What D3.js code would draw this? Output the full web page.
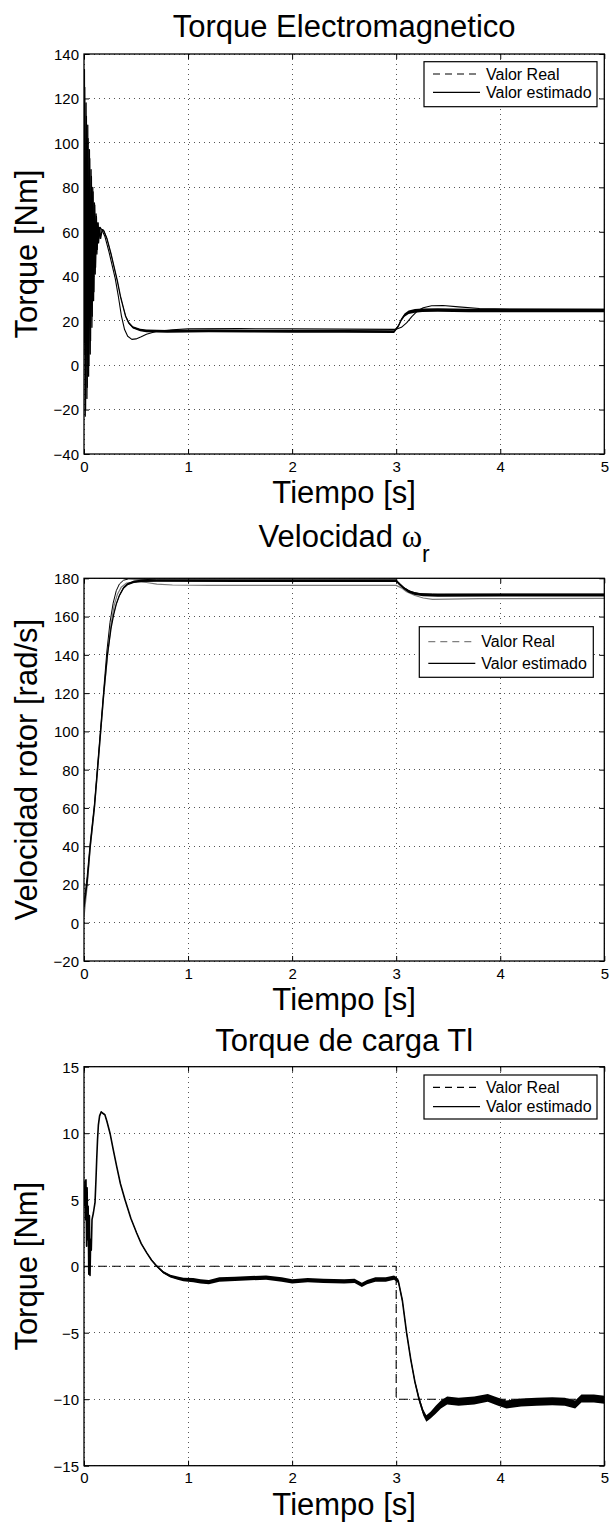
<!DOCTYPE html>
<html>
<head>
<meta charset="utf-8">
<script src="https://cdn.jsdelivr.net/npm/d3@7"></script>
<style>
    body { margin: 0; background: #fff; }
    svg { display: block; font-family: "Liberation Sans", Arial, Helvetica, sans-serif; }
</style>
</head>
<body>
<div id="chart"></div>
<script>

// ---- data: [t (s), value, ripple half-width] ----

const timeTicks = [0, 1, 2, 3, 4, 5];
const teTicks = [-40, -20, 0, 20, 40, 60, 80, 100, 120, 140];
const wrTicks = [-20, 0, 20, 40, 60, 80, 100, 120, 140, 160, 180];
const tlTicks = [-15, -10, -5, 0, 5, 10, 15];
const legendLabels = ["Valor Real", "Valor estimado"];

// torque electromagnetico
const teReal = [
    [0.000, 10, 0], [0.004, 133, 0], [0.012, -23, 0], [0.020, 118, 0], [0.028, -15, 0], [0.036, 108, 0],
    [0.044, -5, 0], [0.052, 97, 0], [0.060, 5, 0], [0.068, 88, 0], [0.076, 17, 0], [0.084, 80, 0],
    [0.092, 29, 0], [0.100, 73, 0], [0.108, 41, 0], [0.116, 68, 0], [0.124, 50, 0], [0.132, 64, 0],
    [0.140, 55, 0], [0.150, 62, 0], [0.160, 57, 0], [0.175, 61, 0.3], [0.19, 60.5, 0.4], [0.22, 57, 0.4],
    [0.26, 50, 0.4], [0.29, 44, 0.4], [0.32, 38, 0.4], [0.35, 31, 0.4], [0.38, 25.5, 0.4], [0.40, 22, 0.4],
    [0.43, 19, 0.5], [0.47, 17, 0.5], [0.54, 15.8, 0.6], [0.60, 15.4, 0.6], [0.80, 15.2, 0.6], [1.20, 15.4, 0.6],
    [1.60, 15.3, 0.6], [2.00, 15.2, 0.6], [2.50, 15.2, 0.6], [2.98, 15.1, 0.6], [3.02, 17.5, 0.6], [3.05, 20.5, 0.6],
    [3.08, 22.5, 0.7], [3.12, 23.8, 0.8], [3.18, 24.4, 0.8], [3.25, 24.7, 0.8], [3.40, 24.8, 0.8], [3.70, 24.6, 0.8],
    [4.20, 24.6, 0.8], [5.00, 24.6, 0.8]
];
const teEst = [
    [0.000, 5], [0.008, 125], [0.016, -20], [0.024, 112], [0.032, -10], [0.040, 102], [0.048, 0], [0.056, 93],
    [0.064, 11], [0.072, 85], [0.080, 22], [0.088, 78], [0.096, 33], [0.104, 72], [0.112, 44], [0.120, 67],
    [0.128, 52], [0.136, 64], [0.145, 57], [0.155, 62], [0.17, 61], [0.20, 58], [0.24, 51], [0.27, 45],
    [0.30, 39], [0.33, 31], [0.36, 22], [0.39, 16], [0.42, 13], [0.46, 11.6], [0.50, 11.8], [0.55, 12.8],
    [0.60, 13.9], [0.70, 15.2], [0.85, 15.9], [1.00, 16.3], [1.50, 16.4], [2.00, 16.3], [2.50, 16.2], [3.00, 16.1],
    [3.05, 17], [3.10, 19], [3.15, 21.8], [3.20, 24.2], [3.26, 25.8], [3.34, 26.7], [3.45, 26.8], [3.60, 26.2],
    [3.80, 25.5], [4.10, 25.2], [5.00, 25.1]
];

// velocidad del rotor
const wrReal = [
    [0, 3], [0.03, 19], [0.06, 39], [0.10, 60], [0.13, 79], [0.16, 99], [0.19, 119], [0.225, 139], [0.26, 156],
    [0.29, 166], [0.32, 171.5], [0.36, 175.5], [0.41, 177.5], [0.50, 178.2], [0.60, 177.8], [0.70, 177],
    [0.85, 176.5], [1.20, 176.3], [2.00, 176.3], [3.00, 176.3], [3.05, 175], [3.10, 173], [3.18, 171],
    [3.26, 169.7], [3.35, 169], [3.50, 169.1], [3.80, 169.4], [5.00, 169.5]
];
const wrEst = [
    [0, 8, 0], [0.03, 21, 0], [0.06, 40, 0], [0.10, 60, 0], [0.13, 80, 0], [0.16, 100, 0], [0.19, 120, 0],
    [0.225, 140, 0], [0.26, 154, 0.2], [0.285, 161, 0.3], [0.31, 166.5, 0.4], [0.34, 171, 0.5], [0.38, 175, 0.6],
    [0.42, 177, 0.6], [0.48, 178.2, 0.6], [0.55, 178.7, 0.6], [0.70, 178.8, 0.6], [1.50, 178.7, 0.6],
    [2.50, 178.7, 0.6], [3.00, 178.7, 0.6], [3.03, 177, 0.6], [3.07, 175, 0.6], [3.12, 173.2, 0.7],
    [3.18, 172, 0.7], [3.26, 171.3, 0.7], [3.40, 171.1, 0.7], [4.00, 171.2, 0.7], [5.00, 171.2, 0.7]
];
const wrObs = [
    [0, 10], [0.03, 24], [0.06, 42], [0.10, 62], [0.13, 82], [0.16, 102], [0.19, 122], [0.22, 142], [0.25, 157],
    [0.28, 167], [0.31, 173.5], [0.34, 177], [0.38, 179], [0.43, 179.7], [0.50, 179.6], [0.70, 179.2],
    [3.00, 179.2], [3.03, 177.5], [3.08, 175], [3.14, 173], [3.22, 172], [3.35, 171.8], [5.00, 171.8]
];

// torque de carga
const tlReal = [[0, 0], [3, 0], [3, -10], [5, -10]];
const tlEst = [
    [0.000, 4.5, 0], [0.010, 6.4, 0], [0.015, 3.5, 0], [0.019, 6.5, 0], [0.025, 1.5, 0], [0.030, 5.9, 0],
    [0.036, 2.0, 0], [0.040, 4.5, 0], [0.046, -0.6, 0], [0.052, 3.8, 0], [0.058, -0.7, 0], [0.064, 2.0, 0],
    [0.070, 1.2, 0], [0.077, 3.5, 0], [0.090, 4.0, 0], [0.106, 4.8, 0], [0.115, 6.5, 0], [0.122, 8.0, 0],
    [0.130, 9.5, 0], [0.138, 10.6, 0.05], [0.150, 11.3, 0.05], [0.165, 11.6, 0.05], [0.180, 11.5, 0.05],
    [0.200, 11.4, 0.05], [0.220, 10.9, 0.05], [0.250, 10.0, 0.05], [0.280, 8.8, 0.05], [0.314, 7.5, 0.05],
    [0.350, 6.2, 0.05], [0.394, 5.0, 0.05], [0.450, 3.6, 0.05], [0.506, 2.5, 0.05], [0.550, 1.7, 0.05],
    [0.603, 1.0, 0.05], [0.650, 0.45, 0.05], [0.700, 0.0, 0.06], [0.760, -0.45, 0.08], [0.830, -0.75, 0.1],
    [0.900, -0.9, 0.12], [0.955, -1.0, 0.14], [1.05, -1.05, 0.16], [1.12, -1.15, 0.16], [1.20, -1.2, 0.16],
    [1.30, -1.0, 0.16], [1.45, -0.95, 0.16], [1.60, -0.9, 0.16], [1.75, -0.85, 0.16], [1.90, -1.0, 0.16],
    [2.00, -1.15, 0.16], [2.15, -1.05, 0.16], [2.30, -1.1, 0.16], [2.50, -1.15, 0.16], [2.60, -1.1, 0.16],
    [2.67, -1.4, 0.16], [2.72, -1.2, 0.16], [2.80, -1.0, 0.16], [2.90, -1.0, 0.16], [2.98, -0.85, 0.16],
    [3.02, -1.1, 0.16], [3.06, -2.6, 0.16], [3.10, -5.0, 0.16], [3.14, -7.0, 0.16], [3.18, -8.7, 0.16],
    [3.22, -10.0, 0.2], [3.26, -11.0, 0.22], [3.29, -11.45, 0.24], [3.33, -11.2, 0.26], [3.38, -10.8, 0.3],
    [3.43, -10.4, 0.3], [3.49, -10.1, 0.3], [3.60, -10.2, 0.3], [3.75, -10.1, 0.3], [3.88, -9.9, 0.3],
    [3.98, -10.2, 0.3], [4.06, -10.4, 0.3], [4.20, -10.25, 0.3], [4.35, -10.2, 0.3], [4.50, -10.15, 0.3],
    [4.62, -10.2, 0.3], [4.72, -10.4, 0.3], [4.78, -9.95, 0.3], [4.90, -9.95, 0.3], [5.00, -10.05, 0.3]
];


/* * * * * * * * * * * * * *
*        TracePlot         *
* * * * * * * * * * * * * */

class TracePlot {

    constructor(svg, box, config) {
        this.svg = svg;
        this.box = box;
        this.config = config;

        this.initVis();
    }

    initVis() {
        let vis = this;

        vis.width = vis.box.right - vis.box.left;
        vis.height = vis.box.bottom - vis.box.top;

        vis.g = vis.svg.append("g")
            .attr("transform", `translate(${vis.box.left}, ${vis.box.top})`);

        // scales
        vis.x = d3.scaleLinear().domain([0, 5]).range([0, vis.width]);
        vis.y = d3.scaleLinear().domain(vis.config.yDomain).range([vis.height, 0]);

        // clip the traces to the axes box
        vis.g.append("clipPath")
            .attr("id", "clip-" + vis.config.id)
            .append("rect")
            .attr("width", vis.width)
            .attr("height", vis.height);

        // dotted grid
        let grid = vis.g.append("g").attr("class", "grid");
        grid.selectAll(".gx")
            .data(timeTicks)
            .enter().append("line")
            .attr("x1", d => vis.x(d)).attr("x2", d => vis.x(d))
            .attr("y1", 0).attr("y2", vis.height);
        grid.selectAll(".gy")
            .data(vis.config.yTicks)
            .enter().append("line")
            .attr("x1", 0).attr("x2", vis.width)
            .attr("y1", d => vis.y(d)).attr("y2", d => vis.y(d));
        grid.selectAll("line")
            .attr("stroke", "#555")
            .attr("stroke-width", 1)
            .attr("stroke-dasharray", "1,4")
            .attr("shape-rendering", "crispEdges");

        vis.traces = vis.g.append("g").attr("clip-path", `url(#clip-${vis.config.id})`);

        // frame
        vis.g.append("rect")
            .attr("width", vis.width)
            .attr("height", vis.height)
            .attr("fill", "none")
            .attr("stroke", "#000")
            .attr("stroke-width", 1.3);

        // axes, ticks pointing inward
        let xAxis = vis.g.append("g")
            .attr("transform", `translate(0, ${vis.height})`)
            .call(d3.axisBottom(vis.x).tickValues(timeTicks).tickSize(-5).tickPadding(7).tickFormat(d3.format("d")));
        let yAxis = vis.g.append("g")
            .call(d3.axisLeft(vis.y).tickValues(vis.config.yTicks).tickSize(-5).tickPadding(5).tickFormat(d3.format("d")));
        let xTop = vis.g.append("g")
            .call(d3.axisTop(vis.x).tickValues(timeTicks).tickSize(-5).tickFormat(""));
        let yRight = vis.g.append("g")
            .attr("transform", `translate(${vis.width}, 0)`)
            .call(d3.axisRight(vis.y).tickValues(vis.config.yTicks).tickSize(-5).tickFormat(""));

        [xAxis, yAxis, xTop, yRight].forEach(a => {
            a.select(".domain").remove();
            a.attr("font-family", null).attr("font-size", null);
            a.selectAll("line").attr("stroke", "#000");
            a.selectAll("text").attr("fill", "#000").style("font-size", "15px");
        });
        yAxis.selectAll("text").attr("dy", "0.36em");

        // titles and labels
        let title = vis.g.append("text")
            .attr("x", vis.width / 2)
            .attr("y", vis.config.titleY)
            .attr("text-anchor", "middle")
            .style("font-size", "31px");
        title.append("tspan").text(vis.config.title);
        if (vis.config.titleSymbol) {
            title.append("tspan")
                .style("font-family", "'Liberation Serif', 'DejaVu Serif', serif")
                .text(vis.config.titleSymbol);
            title.append("tspan")
                .attr("dy", 15)
                .style("font-size", "23px")
                .text(vis.config.titleSub);
        }

        vis.g.append("text")
            .attr("x", vis.width / 2)
            .attr("y", vis.height + 49)
            .attr("text-anchor", "middle")
            .style("font-size", "31px")
            .text("Tiempo [s]");

        vis.g.append("text")
            .attr("transform", `translate(${37 - vis.box.left}, ${vis.height / 2}) rotate(-90)`)
            .attr("text-anchor", "middle")
            .style("font-size", "31px")
            .text(vis.config.yLabel);

        vis.drawLegend();
        vis.updateVis();
    }

    drawLegend() {
        let vis = this;
        let L = vis.config.legend;

        let legend = vis.g.append("g")
            .attr("class", "legend")
            .attr("transform", `translate(${vis.width - L.right - L.w}, ${L.top})`);

        legend.append("rect")
            .attr("width", L.w)
            .attr("height", L.h)
            .attr("fill", "#fff")
            .attr("stroke", "#000")
            .attr("stroke-width", 1.2);

        let rows = legend.selectAll(".row")
            .data(legendLabels)
            .enter().append("g")
            .attr("transform", (d, i) => `translate(0, ${L.first + i * L.gap})`);

        rows.append("line")
            .attr("x1", 9).attr("x2", 56)
            .attr("stroke", (d, i) => i === 0 ? L.realColor : "#000")
            .attr("stroke-width", 1.2)
            .attr("stroke-dasharray", (d, i) => i === 0 ? "7,5" : null);

        rows.append("text")
            .attr("x", 62)
            .attr("dy", "0.36em")
            .style("font-size", "16px")
            .text(d => d);
    }

    updateVis() {
        let vis = this;

        let line = d3.line()
            .x(d => vis.x(d[0]))
            .y(d => vis.y(d[1]));

        let band = d3.area()
            .x(d => vis.x(d[0]))
            .y0(d => vis.y(d[1] - (d[2] || 0)))
            .y1(d => vis.y(d[1] + (d[2] || 0)));

        vis.config.series.forEach(s => {
            if (s.ripple) {
                vis.traces.append("path")
                    .attr("d", band(s.data))
                    .attr("fill", s.color);
            }
            vis.traces.append("path")
                .attr("d", line(s.data))
                .attr("fill", "none")
                .attr("stroke", s.color)
                .attr("stroke-width", s.width)
                .attr("stroke-dasharray", s.dash || null)
                .attr("stroke-linejoin", "round");
        });
    }
}


// ---- build the figure ----

const svg = d3.select("#chart").append("svg")
    .attr("width", 611)
    .attr("height", 1525);

svg.append("rect").attr("width", 611).attr("height", 1525).attr("fill", "#fff");

new TracePlot(svg, {left: 84, right: 604.3, top: 54, bottom: 454}, {
    id: "te",
    yDomain: [-40, 140],
    yTicks: teTicks,
    title: "Torque Electromagnetico",
    titleY: -17,
    yLabel: "Torque [Nm]",
    legend: {right: 7.3, top: 7.7, w: 173, h: 45, first: 12.3, gap: 18.3, realColor: "#000"},
    series: [
        {data: teReal, color: "#000", width: 1.3, ripple: true},
        {data: teEst, color: "#000", width: 1.1}
    ]
});

new TracePlot(svg, {left: 84, right: 604.3, top: 578.3, bottom: 961}, {
    id: "wr",
    yDomain: [-20, 180],
    yTicks: wrTicks,
    title: "Velocidad ",
    titleSymbol: "ω",
    titleSub: "r",
    titleY: -31.6,
    yLabel: "Velocidad rotor [rad/s]",
    legend: {right: 11, top: 48.4, w: 174, h: 50.6, first: 15, gap: 21.6, realColor: "#808080"},
    series: [
        {data: wrReal, color: "#7a7a7a", width: 1.2},
        {data: wrEst, color: "#000", width: 1.3, ripple: true},
        {data: wrObs, color: "#000", width: 1}
    ]
});

new TracePlot(svg, {left: 84, right: 604.3, top: 1066.7, bottom: 1465.7}, {
    id: "tl",
    yDomain: [-15, 15],
    yTicks: tlTicks,
    title: "Torque de carga Tl",
    titleY: -16,
    yLabel: "Torque [Nm]",
    legend: {right: 7.3, top: 8.3, w: 173, h: 44, first: 12.3, gap: 19.4, realColor: "#000"},
    series: [
        {data: tlReal, color: "#000", width: 1.1, dash: "9,5"},
        {data: tlEst, color: "#000", width: 1.6, ripple: true}
    ]
});

</script>
</body>
</html>
